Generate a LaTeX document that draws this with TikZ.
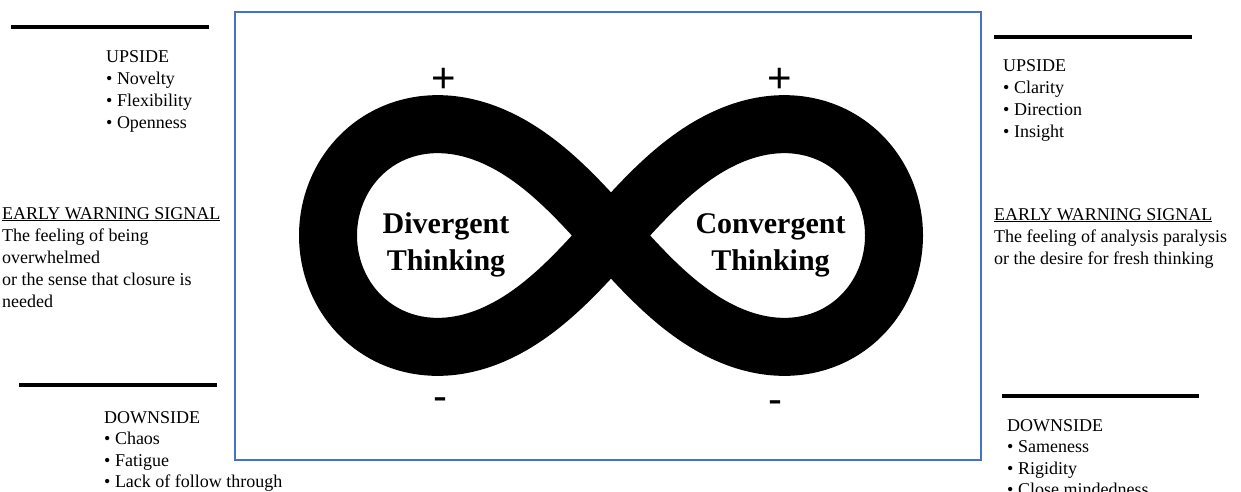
\documentclass[tikz,border=0pt]{standalone}
\usepackage{fontspec}
\setmainfont{Liberation Serif}
\newfontfamily\signfont{Liberation Sans}
\definecolor{boxblue}{RGB}{68,114,196}
\begin{document}
\begin{tikzpicture}[x=1pt,y=-1pt,
  txtblock/.style={anchor=base west, inner sep=0pt, font=\fontsize{18}{22}\selectfont},
  txtblockb/.style={anchor=base west, inner sep=0pt, font=\fontsize{18}{21.5}\selectfont},
  loopname/.style={anchor=base, inner sep=0pt, font=\bfseries\fontsize{30}{37}\selectfont},
  bar/.style={line width=4pt, black},
  sign/.style={anchor=base, inner sep=0pt, font=\signfont\fontsize{42}{42}\selectfont},
  frame/.style={draw=boxblue, line width=2pt}
]
\useasboundingbox[fill=white] (0,0) rectangle (1241,491);

% frame
\draw[frame] (235,12) rectangle (981,460);

% infinity loop
\draw[line width=58pt, black]
  plot[domain=0:358, samples=180, smooth cycle]
  ({611+283*cos(\x)/(1+sin(\x)*sin(\x))},
   {235.5+315*sin(\x)*cos(\x)/(1+sin(\x)*sin(\x))});

% loop labels
\node[loopname] (div) at (446,233) {\parbox[t]{200pt}{\centering Divergent\\Thinking}};
\node[loopname] (conv) at (770.5,233) {\parbox[t]{200pt}{\centering Convergent\\Thinking}};

% signs
\node[sign] (plusL) at (444,92) {+};
\node[sign] (plusR) at (779.5,92) {+};
\node[sign] (minusL) at (440,410) {-};
\node[sign] (minusR) at (775,413) {-};

% bars
\draw[bar] (11,27) -- (209,27);
\draw[bar] (19,385) -- (217,385);
\draw[bar] (994,37) -- (1192,37);
\draw[bar] (1002,396) -- (1199,396);

% left side texts
\node[txtblock] (upL) at (106,62)
  {\parbox[t]{200pt}{UPSIDE\\• Novelty\\• Flexibility\\• Openness}};
\node[txtblock] (warnL) at (2,219)
  {\parbox[t]{240pt}{\underline{EARLY WARNING SIGNAL}\\The feeling of being\\overwhelmed\\or the sense that closure is\\needed}};
\node[txtblockb] (downL) at (104,423)
  {\parbox[t]{240pt}{DOWNSIDE\\• Chaos\\• Fatigue\\• Lack of follow through}};

% right side texts
\node[txtblock] (upR) at (1003,71)
  {\parbox[t]{200pt}{UPSIDE\\• Clarity\\• Direction\\• Insight}};
\node[txtblock] (warnR) at (994,220)
  {\parbox[t]{260pt}{\underline{EARLY WARNING SIGNAL}\\The feeling of analysis paralysis\\or the desire for fresh thinking}};
\node[txtblockb] (downR) at (1007,431)
  {\parbox[t]{240pt}{DOWNSIDE\\• Sameness\\• Rigidity\\• Close mindedness}};
\end{tikzpicture}
\end{document}
